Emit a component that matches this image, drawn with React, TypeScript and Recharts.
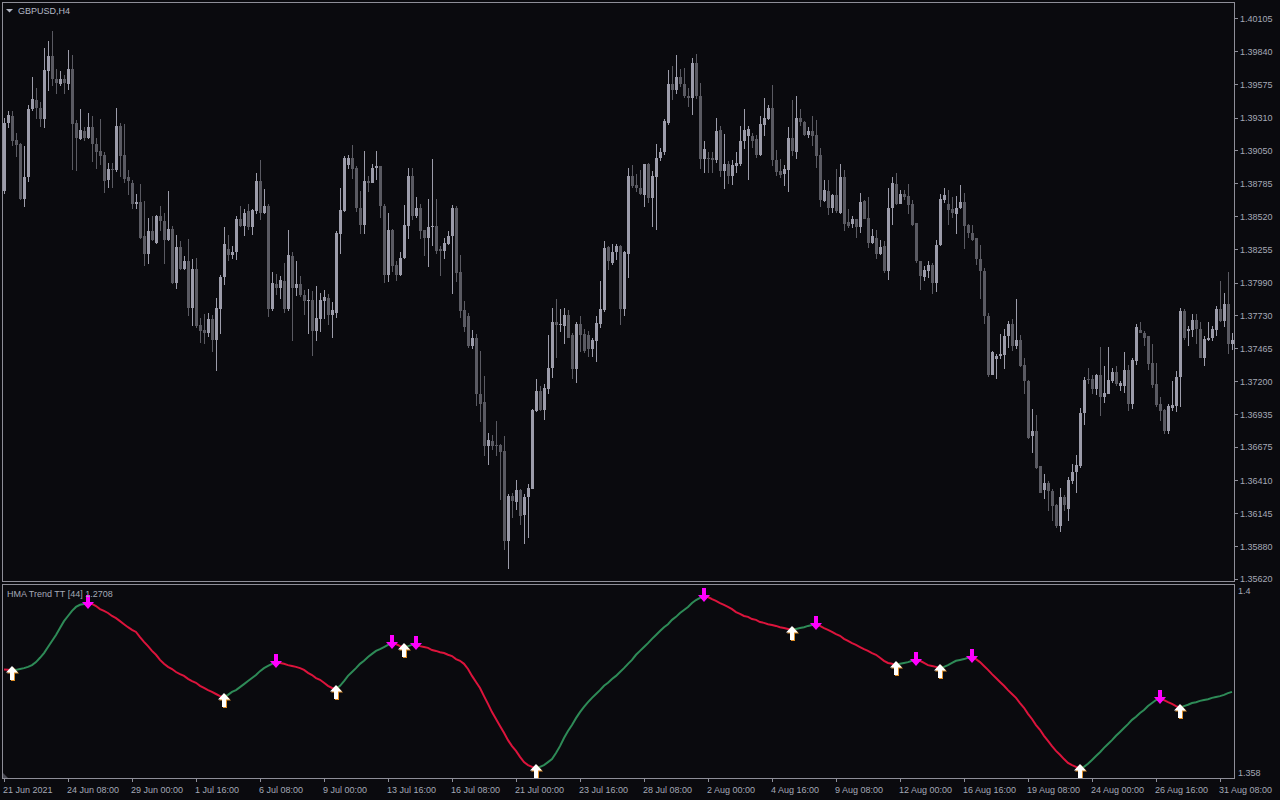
import React from 'react';
import { ComposedChart, Bar, Line, XAxis, YAxis } from 'recharts';

// GBPUSD H4 bars
const openPrices = [
  1.3872, 1.3927, 1.3932, 1.3913, 1.3910, 1.3866, 1.3883, 1.3938, 1.3945, 1.3939,
  1.3930, 1.3968, 1.3980, 1.3962, 1.3958, 1.3962, 1.3958, 1.3970, 1.3927, 1.3914,
  1.3920, 1.3915, 1.3923, 1.3910, 1.3904, 1.3901, 1.3881, 1.3890, 1.3889, 1.3924,
  1.3901, 1.3883, 1.3879, 1.3862, 1.3863, 1.3836, 1.3822, 1.3840, 1.3831, 1.3852,
  1.3848, 1.3833, 1.3842, 1.3799, 1.3827, 1.3810, 1.3816, 1.3779, 1.3810, 1.3765,
  1.3761, 1.3759, 1.3770, 1.3753, 1.3778, 1.3803, 1.3826, 1.3821, 1.3823, 1.3850,
  1.3844, 1.3856, 1.3843, 1.3856, 1.3880, 1.3855, 1.3860, 1.3778, 1.3798, 1.3795,
  1.3800, 1.3778, 1.3820, 1.3795, 1.3798, 1.3789, 1.3784, 1.3785, 1.3760, 1.3770,
  1.3784, 1.3787, 1.3773, 1.3775, 1.3838, 1.3856, 1.3893, 1.3899, 1.3891, 1.3859,
  1.3845, 1.3880, 1.3879, 1.3891, 1.3892, 1.3860, 1.3805, 1.3841, 1.3813, 1.3805,
  1.3819, 1.3844, 1.3884, 1.3852, 1.3859, 1.3841, 1.3835, 1.3843, 1.3844, 1.3826,
  1.3824, 1.3830, 1.3836, 1.3859, 1.3807, 1.3777, 1.3772, 1.3748, 1.3755, 1.3710,
  1.3703, 1.3668, 1.3672, 1.3669, 1.3669, 1.3664, 1.3592, 1.3628, 1.3623, 1.3633,
  1.3613, 1.3627, 1.3634, 1.3696, 1.3712, 1.3697, 1.3714, 1.3731, 1.3767, 1.3765,
  1.3764, 1.3773, 1.3757, 1.3730, 1.3766, 1.3758, 1.3757, 1.3746, 1.3752, 1.3766,
  1.3777, 1.3827, 1.3815, 1.3823, 1.3828, 1.3778, 1.3822, 1.3884, 1.3877, 1.3875,
  1.3869, 1.3894, 1.3867, 1.3883, 1.3899, 1.3903, 1.3927, 1.3958, 1.3953, 1.3963,
  1.3958, 1.3948, 1.3947, 1.3975, 1.3948, 1.3898, 1.3899, 1.3899, 1.3897, 1.3921,
  1.3888, 1.3894, 1.3884, 1.3892, 1.3894, 1.3912, 1.3916, 1.3916, 1.3914, 1.3901,
  1.3925, 1.3930, 1.3939, 1.3897, 1.3888, 1.3886, 1.3889, 1.3915, 1.3903, 1.3931,
  1.3927, 1.3917, 1.3920, 1.3917, 1.3901, 1.3864, 1.3872, 1.3859, 1.3869, 1.3855,
  1.3883, 1.3847, 1.3846, 1.3850, 1.3843, 1.3864, 1.3851, 1.3831, 1.3835, 1.3822,
  1.3828, 1.3808, 1.3859, 1.3878, 1.3862, 1.3870, 1.3868, 1.3862, 1.3847, 1.3816,
  1.3803, 1.3808, 1.3813, 1.3799, 1.3829, 1.3865, 1.3862, 1.3858, 1.3854, 1.3859,
  1.3863, 1.3845, 1.3839, 1.3835, 1.3818, 1.3808, 1.3772, 1.3725, 1.3738, 1.3740,
  1.3741, 1.3756, 1.3766, 1.3748, 1.3753, 1.3733, 1.3720, 1.3676, 1.3680, 1.3652,
  1.3633, 1.3639, 1.3632, 1.3621, 1.3604, 1.3627, 1.3618, 1.3640, 1.3647, 1.3652,
  1.3695, 1.3722, 1.3722, 1.3714, 1.3725, 1.3707, 1.3710, 1.3720, 1.3727, 1.3716,
  1.3716, 1.3729, 1.3702, 1.3736, 1.3761, 1.3759, 1.3756, 1.3735, 1.3718, 1.3702,
  1.3697, 1.3680, 1.3699, 1.3700, 1.3723, 1.3776, 1.3760, 1.3761, 1.3769, 1.3762,
  1.3739, 1.3753, 1.3755, 1.3761, 1.3778, 1.3768, 1.3782, 1.3750,
];

const highPrices = [
  1.3931, 1.3936, 1.3936, 1.3919, 1.3911, 1.3908, 1.3941, 1.3963, 1.3955, 1.3943,
  1.3987, 1.3992, 1.4000, 1.3970, 1.3968, 1.3965, 1.3985, 1.3981, 1.3929, 1.3938,
  1.3923, 1.3935, 1.3932, 1.3915, 1.3930, 1.3903, 1.3895, 1.3895, 1.3939, 1.3927,
  1.3926, 1.3889, 1.3881, 1.3870, 1.3878, 1.3864, 1.3851, 1.3852, 1.3853, 1.3860,
  1.3855, 1.3872, 1.3844, 1.3837, 1.3832, 1.3820, 1.3834, 1.3818, 1.3819, 1.3771,
  1.3774, 1.3775, 1.3773, 1.3787, 1.3805, 1.3843, 1.3837, 1.3828, 1.3852, 1.3860,
  1.3858, 1.3862, 1.3858, 1.3887, 1.3897, 1.3874, 1.3862, 1.3807, 1.3806, 1.3804,
  1.3815, 1.3841, 1.3823, 1.3816, 1.3804, 1.3793, 1.3794, 1.3792, 1.3796, 1.3791,
  1.3793, 1.3790, 1.3783, 1.3840, 1.3875, 1.3900, 1.3901, 1.3909, 1.3892, 1.3872,
  1.3904, 1.3884, 1.3894, 1.3904, 1.3892, 1.3862, 1.3855, 1.3842, 1.3816, 1.3823,
  1.3861, 1.3891, 1.3891, 1.3867, 1.3862, 1.3841, 1.3866, 1.3898, 1.3866, 1.3828,
  1.3835, 1.3840, 1.3861, 1.3860, 1.3821, 1.3784, 1.3775, 1.3761, 1.3758, 1.3744,
  1.3724, 1.3679, 1.3677, 1.3688, 1.3670, 1.3676, 1.3630, 1.3631, 1.3641, 1.3634,
  1.3630, 1.3638, 1.3698, 1.3722, 1.3716, 1.3718, 1.3757, 1.3779, 1.3786, 1.3778,
  1.3779, 1.3777, 1.3759, 1.3767, 1.3772, 1.3762, 1.3760, 1.3755, 1.3772, 1.3800,
  1.3832, 1.3828, 1.3830, 1.3830, 1.3829, 1.3824, 1.3891, 1.3893, 1.3886, 1.3889,
  1.3894, 1.3895, 1.3888, 1.3910, 1.3907, 1.3930, 1.3969, 1.3972, 1.3981, 1.3970,
  1.3971, 1.3955, 1.3979, 1.3982, 1.3959, 1.3912, 1.3903, 1.3903, 1.3931, 1.3924,
  1.3918, 1.3896, 1.3897, 1.3903, 1.3924, 1.3938, 1.3924, 1.3919, 1.3917, 1.3932,
  1.3947, 1.3941, 1.3957, 1.3905, 1.3898, 1.3893, 1.3923, 1.3945, 1.3948, 1.3938,
  1.3928, 1.3923, 1.3932, 1.3929, 1.3907, 1.3881, 1.3881, 1.3870, 1.3890, 1.3894,
  1.3889, 1.3858, 1.3852, 1.3850, 1.3871, 1.3865, 1.3867, 1.3842, 1.3841, 1.3833,
  1.3832, 1.3875, 1.3883, 1.3887, 1.3873, 1.3873, 1.3878, 1.3865, 1.3847, 1.3816,
  1.3812, 1.3816, 1.3815, 1.3833, 1.3870, 1.3875, 1.3873, 1.3867, 1.3868, 1.3877,
  1.3871, 1.3846, 1.3845, 1.3835, 1.3829, 1.3811, 1.3775, 1.3744, 1.3742, 1.3758,
  1.3762, 1.3768, 1.3770, 1.3786, 1.3757, 1.3739, 1.3721, 1.3698, 1.3693, 1.3652,
  1.3646, 1.3640, 1.3634, 1.3622, 1.3635, 1.3629, 1.3643, 1.3654, 1.3661, 1.3699,
  1.3723, 1.3731, 1.3725, 1.3726, 1.3747, 1.3732, 1.3747, 1.3731, 1.3732, 1.3720,
  1.3743, 1.3733, 1.3739, 1.3766, 1.3767, 1.3760, 1.3756, 1.3750, 1.3735, 1.3707,
  1.3698, 1.3702, 1.3720, 1.3728, 1.3779, 1.3778, 1.3764, 1.3774, 1.3774, 1.3767,
  1.3756, 1.3767, 1.3764, 1.3780, 1.3800, 1.3791, 1.3807, 1.3759,
];

const lowPrices = [
  1.3870, 1.3922, 1.3908, 1.3900, 1.3865, 1.3859, 1.3879, 1.3936, 1.3930, 1.3923,
  1.3923, 1.3952, 1.3956, 1.3950, 1.3956, 1.3950, 1.3953, 1.3889, 1.3888, 1.3913,
  1.3912, 1.3914, 1.3895, 1.3890, 1.3893, 1.3870, 1.3875, 1.3875, 1.3888, 1.3884,
  1.3879, 1.3869, 1.3858, 1.3858, 1.3834, 1.3812, 1.3814, 1.3832, 1.3830, 1.3840,
  1.3814, 1.3832, 1.3798, 1.3794, 1.3809, 1.3809, 1.3772, 1.3764, 1.3763, 1.3751,
  1.3750, 1.3756, 1.3743, 1.3729, 1.3758, 1.3797, 1.3816, 1.3818, 1.3817, 1.3843,
  1.3836, 1.3841, 1.3837, 1.3854, 1.3849, 1.3854, 1.3772, 1.3776, 1.3789, 1.3786,
  1.3775, 1.3776, 1.3752, 1.3788, 1.3787, 1.3773, 1.3758, 1.3740, 1.3752, 1.3760,
  1.3770, 1.3765, 1.3754, 1.3770, 1.3822, 1.3855, 1.3890, 1.3882, 1.3855, 1.3838,
  1.3838, 1.3871, 1.3879, 1.3881, 1.3850, 1.3799, 1.3800, 1.3808, 1.3800, 1.3804,
  1.3818, 1.3834, 1.3849, 1.3850, 1.3834, 1.3820, 1.3812, 1.3828, 1.3822, 1.3804,
  1.3818, 1.3829, 1.3790, 1.3799, 1.3771, 1.3759, 1.3747, 1.3746, 1.3700, 1.3687,
  1.3660, 1.3653, 1.3665, 1.3660, 1.3625, 1.3585, 1.3570, 1.3611, 1.3617, 1.3605,
  1.3590, 1.3595, 1.3634, 1.3696, 1.3696, 1.3689, 1.3710, 1.3723, 1.3739, 1.3760,
  1.3750, 1.3755, 1.3722, 1.3718, 1.3743, 1.3743, 1.3739, 1.3740, 1.3735, 1.3762,
  1.3775, 1.3809, 1.3813, 1.3817, 1.3765, 1.3772, 1.3803, 1.3875, 1.3872, 1.3869,
  1.3860, 1.3863, 1.3843, 1.3841, 1.3897, 1.3901, 1.3925, 1.3945, 1.3950, 1.3956,
  1.3947, 1.3940, 1.3933, 1.3946, 1.3890, 1.3886, 1.3886, 1.3886, 1.3895, 1.3883,
  1.3874, 1.3878, 1.3877, 1.3886, 1.3892, 1.3906, 1.3881, 1.3907, 1.3899, 1.3900,
  1.3917, 1.3929, 1.3892, 1.3884, 1.3883, 1.3876, 1.3871, 1.3900, 1.3898, 1.3924,
  1.3916, 1.3914, 1.3908, 1.3891, 1.3860, 1.3863, 1.3853, 1.3855, 1.3855, 1.3854,
  1.3840, 1.3843, 1.3842, 1.3835, 1.3839, 1.3850, 1.3826, 1.3830, 1.3818, 1.3821,
  1.3806, 1.3801, 1.3845, 1.3861, 1.3862, 1.3865, 1.3854, 1.3844, 1.3815, 1.3793,
  1.3800, 1.3802, 1.3790, 1.3791, 1.3828, 1.3863, 1.3845, 1.3850, 1.3838, 1.3858,
  1.3826, 1.3835, 1.3832, 1.3813, 1.3786, 1.3766, 1.3724, 1.3725, 1.3722, 1.3738,
  1.3730, 1.3746, 1.3744, 1.3746, 1.3731, 1.3710, 1.3674, 1.3663, 1.3650, 1.3630,
  1.3626, 1.3616, 1.3608, 1.3603, 1.3600, 1.3616, 1.3608, 1.3638, 1.3631, 1.3651,
  1.3685, 1.3718, 1.3710, 1.3709, 1.3692, 1.3702, 1.3710, 1.3719, 1.3716, 1.3712,
  1.3710, 1.3696, 1.3698, 1.3733, 1.3758, 1.3748, 1.3729, 1.3715, 1.3700, 1.3688,
  1.3678, 1.3678, 1.3696, 1.3695, 1.3700, 1.3753, 1.3748, 1.3756, 1.3750, 1.3738,
  1.3732, 1.3752, 1.3752, 1.3756, 1.3767, 1.3764, 1.3741, 1.3745,
];

const closePrices = [
  1.3927, 1.3933, 1.3912, 1.3909, 1.3866, 1.3883, 1.3938, 1.3946, 1.3939, 1.3930,
  1.3969, 1.3980, 1.3962, 1.3959, 1.3962, 1.3959, 1.3970, 1.3926, 1.3915, 1.3921,
  1.3915, 1.3923, 1.3910, 1.3903, 1.3900, 1.3880, 1.3890, 1.3889, 1.3924, 1.3900,
  1.3882, 1.3880, 1.3862, 1.3863, 1.3835, 1.3822, 1.3840, 1.3833, 1.3852, 1.3848,
  1.3833, 1.3842, 1.3799, 1.3827, 1.3810, 1.3816, 1.3779, 1.3810, 1.3764, 1.3760,
  1.3759, 1.3770, 1.3753, 1.3779, 1.3803, 1.3830, 1.3821, 1.3823, 1.3850, 1.3844,
  1.3855, 1.3843, 1.3857, 1.3880, 1.3855, 1.3860, 1.3778, 1.3799, 1.3795, 1.3801,
  1.3778, 1.3821, 1.3795, 1.3798, 1.3789, 1.3784, 1.3785, 1.3760, 1.3771, 1.3785,
  1.3787, 1.3773, 1.3777, 1.3839, 1.3857, 1.3899, 1.3899, 1.3890, 1.3859, 1.3845,
  1.3880, 1.3879, 1.3891, 1.3892, 1.3860, 1.3805, 1.3841, 1.3812, 1.3805, 1.3819,
  1.3845, 1.3884, 1.3852, 1.3859, 1.3840, 1.3835, 1.3843, 1.3844, 1.3824, 1.3824,
  1.3831, 1.3836, 1.3859, 1.3807, 1.3776, 1.3763, 1.3748, 1.3755, 1.3710, 1.3702,
  1.3668, 1.3673, 1.3668, 1.3668, 1.3663, 1.3592, 1.3628, 1.3624, 1.3633, 1.3612,
  1.3627, 1.3635, 1.3697, 1.3712, 1.3697, 1.3715, 1.3731, 1.3767, 1.3765, 1.3766,
  1.3773, 1.3755, 1.3730, 1.3766, 1.3757, 1.3744, 1.3746, 1.3753, 1.3767, 1.3778,
  1.3827, 1.3816, 1.3823, 1.3828, 1.3778, 1.3823, 1.3884, 1.3876, 1.3875, 1.3870,
  1.3894, 1.3867, 1.3884, 1.3899, 1.3903, 1.3928, 1.3958, 1.3953, 1.3963, 1.3958,
  1.3948, 1.3947, 1.3975, 1.3948, 1.3898, 1.3906, 1.3899, 1.3897, 1.3920, 1.3888,
  1.3894, 1.3884, 1.3893, 1.3895, 1.3912, 1.3921, 1.3922, 1.3912, 1.3901, 1.3926,
  1.3931, 1.3939, 1.3897, 1.3887, 1.3885, 1.3890, 1.3915, 1.3904, 1.3931, 1.3927,
  1.3917, 1.3920, 1.3916, 1.3900, 1.3865, 1.3873, 1.3859, 1.3869, 1.3856, 1.3883,
  1.3846, 1.3844, 1.3850, 1.3843, 1.3863, 1.3850, 1.3831, 1.3836, 1.3822, 1.3827,
  1.3808, 1.3859, 1.3879, 1.3862, 1.3870, 1.3867, 1.3861, 1.3845, 1.3816, 1.3804,
  1.3809, 1.3813, 1.3799, 1.3829, 1.3866, 1.3869, 1.3857, 1.3855, 1.3859, 1.3863,
  1.3844, 1.3839, 1.3833, 1.3818, 1.3808, 1.3772, 1.3725, 1.3743, 1.3740, 1.3742,
  1.3756, 1.3766, 1.3748, 1.3753, 1.3732, 1.3720, 1.3675, 1.3680, 1.3651, 1.3631,
  1.3639, 1.3632, 1.3620, 1.3604, 1.3627, 1.3621, 1.3641, 1.3647, 1.3653, 1.3695,
  1.3721, 1.3721, 1.3714, 1.3725, 1.3707, 1.3711, 1.3721, 1.3727, 1.3718, 1.3719,
  1.3729, 1.3702, 1.3737, 1.3763, 1.3759, 1.3755, 1.3734, 1.3717, 1.3701, 1.3696,
  1.3680, 1.3700, 1.3701, 1.3723, 1.3776, 1.3755, 1.3762, 1.3769, 1.3762, 1.3739,
  1.3754, 1.3755, 1.3762, 1.3778, 1.3768, 1.3782, 1.3750, 1.3753,
];

// HMA Trend TT [44] line
const hmaValues = [
  1.3818, 1.3817, 1.3816, 1.3817, 1.3819, 1.3821, 1.3824, 1.3828, 1.3835, 1.3845,
  1.3856, 1.3870, 1.3884, 1.3898, 1.3914, 1.3930, 1.3942, 1.3954, 1.3963, 1.3968,
  1.3970, 1.3972, 1.3970, 1.3965, 1.3958, 1.3954, 1.3949, 1.3942, 1.3937, 1.3930,
  1.3923, 1.3916, 1.3910, 1.3905, 1.3893, 1.3882, 1.3872, 1.3861, 1.3852, 1.3840,
  1.3831, 1.3824, 1.3819, 1.3812, 1.3807, 1.3803, 1.3796, 1.3791, 1.3787, 1.3780,
  1.3775, 1.3770, 1.3766, 1.3761, 1.3756, 1.3754, 1.3759, 1.3766, 1.3770, 1.3777,
  1.3784, 1.3791, 1.3798, 1.3805, 1.3814, 1.3821, 1.3826, 1.3831, 1.3835, 1.3833,
  1.3831, 1.3828, 1.3826, 1.3824, 1.3821, 1.3817, 1.3810, 1.3805, 1.3798, 1.3794,
  1.3787, 1.3780, 1.3775, 1.3773, 1.3780, 1.3791, 1.3803, 1.3812, 1.3821, 1.3831,
  1.3838, 1.3847, 1.3854, 1.3861, 1.3865, 1.3870, 1.3875, 1.3879, 1.3877, 1.3872,
  1.3870, 1.3872, 1.3875, 1.3877, 1.3872, 1.3870, 1.3868, 1.3863, 1.3861, 1.3858,
  1.3856, 1.3852, 1.3849, 1.3842, 1.3838, 1.3831, 1.3819, 1.3803, 1.3789, 1.3775,
  1.3756, 1.3738, 1.3719, 1.3703, 1.3687, 1.3671, 1.3654, 1.3640, 1.3629, 1.3615,
  1.3603, 1.3596, 1.3592, 1.3589, 1.3592, 1.3596, 1.3603, 1.3610, 1.3624, 1.3640,
  1.3659, 1.3675, 1.3689, 1.3705, 1.3719, 1.3731, 1.3742, 1.3752, 1.3761, 1.3770,
  1.3780, 1.3787, 1.3796, 1.3803, 1.3812, 1.3821, 1.3831, 1.3840, 1.3852, 1.3861,
  1.3870, 1.3879, 1.3889, 1.3898, 1.3907, 1.3916, 1.3923, 1.3933, 1.3940, 1.3949,
  1.3956, 1.3963, 1.3972, 1.3979, 1.3984, 1.3988, 1.3986, 1.3981, 1.3977, 1.3972,
  1.3968, 1.3963, 1.3958, 1.3951, 1.3947, 1.3942, 1.3940, 1.3935, 1.3933, 1.3928,
  1.3926, 1.3923, 1.3921, 1.3919, 1.3916, 1.3914, 1.3912, 1.3910, 1.3912, 1.3914,
  1.3916, 1.3919, 1.3921, 1.3923, 1.3919, 1.3914, 1.3910, 1.3905, 1.3900, 1.3896,
  1.3889, 1.3884, 1.3879, 1.3875, 1.3870, 1.3865, 1.3861, 1.3856, 1.3852, 1.3845,
  1.3838, 1.3833, 1.3831, 1.3828, 1.3831, 1.3833, 1.3835, 1.3838, 1.3840, 1.3838,
  1.3833, 1.3828, 1.3826, 1.3824, 1.3821, 1.3824, 1.3828, 1.3833, 1.3838, 1.3840,
  1.3842, 1.3845, 1.3847, 1.3842, 1.3835, 1.3826, 1.3817, 1.3807, 1.3798, 1.3789,
  1.3780, 1.3770, 1.3761, 1.3752, 1.3740, 1.3729, 1.3715, 1.3703, 1.3689, 1.3678,
  1.3664, 1.3652, 1.3640, 1.3629, 1.3620, 1.3610, 1.3601, 1.3596, 1.3592, 1.3589,
  1.3592, 1.3599, 1.3608, 1.3617, 1.3626, 1.3636, 1.3645, 1.3654, 1.3664, 1.3673,
  1.3682, 1.3691, 1.3701, 1.3708, 1.3717, 1.3724, 1.3733, 1.3740, 1.3747, 1.3752,
  1.3747, 1.3742, 1.3738, 1.3733, 1.3729, 1.3733, 1.3736, 1.3740, 1.3742, 1.3745,
  1.3747, 1.3749, 1.3752, 1.3754, 1.3756, 1.3759, 1.3763, 1.3766,
];

// bars where the indicator drew its arrows
const upSignals = [2, 55, 83, 100, 133, 197, 223, 234, 269, 294];
const downSignals = [21, 68, 97, 103, 175, 203, 228, 242, 289];

const timeTickBars = [0, 16, 32, 48, 64, 80, 96, 112, 128, 144, 160, 176, 192, 208, 224, 240, 256, 272, 288, 304];
const timeTickLabels = [
  '21 Jun 2021', '24 Jun 08:00', '29 Jun 00:00', '1 Jul 16:00', '6 Jul 08:00',
  '9 Jul 00:00', '13 Jul 16:00', '16 Jul 08:00', '21 Jul 00:00', '23 Jul 16:00',
  '28 Jul 08:00', '2 Aug 00:00', '4 Aug 16:00', '9 Aug 08:00', '12 Aug 00:00',
  '16 Aug 16:00', '19 Aug 08:00', '24 Aug 00:00', '26 Aug 16:00', '31 Aug 08:00',
];

const priceTicks = [
  1.40105, 1.3984, 1.39575, 1.3931, 1.3905, 1.38785, 1.3852, 1.38255, 1.3799,
  1.3773, 1.37465, 1.372, 1.36935, 1.36675, 1.3641, 1.36145, 1.3588, 1.3562,
];
const hmaTicks = [1.358, 1.4];

const BG = '#0a0a0e';
const FRAME = '#8e8e98';
const TEXT = '#a4a9b6';
const BULL = '#9c9caa';
const BEAR = '#5a5a62';
const GREEN = '#2e8b57';
const RED = '#dc143c';
const FONT = '"Liberation Sans", Arial, sans-serif';

function trendAt(i: number) {
  let t = 'down';
  let last = -1;
  upSignals.forEach((s) => { if (s <= i && s > last) { last = s; t = 'up'; } });
  downSignals.forEach((s) => { if (s <= i && s > last) { last = s; t = 'down'; } });
  return t;
}

const rows = closePrices.map((close, i) => {
  const t = trendAt(i);
  const prev = i > 0 ? trendAt(i - 1) : t;
  return {
    i,
    open: openPrices[i],
    high: highPrices[i],
    low: lowPrices[i],
    close,
    range: [lowPrices[i], highPrices[i]],
    hmaUp: t === 'up' || prev === 'up' ? hmaValues[i] : null,
    hmaDown: t === 'down' || prev === 'down' ? hmaValues[i] : null,
    sigUp: upSignals.includes(i) ? hmaValues[i] : null,
    sigDown: downSignals.includes(i) ? hmaValues[i] : null,
  };
});

function Candle(props: any) {
  const { x, y, width, height, payload } = props;
  const { open, close, high, low } = payload;
  const yHigh = Math.min(y, y + height);
  const yLow = Math.max(y, y + height);
  const span = high - low || 1e-9;
  const py = (v: number) => yHigh + ((high - v) / span) * (yLow - yHigh);
  const cx = Math.round(x + width / 2);
  const color = close > open ? BULL : BEAR;
  const top = Math.round(py(Math.max(open, close)));
  const bot = Math.round(py(Math.min(open, close)));
  return (
    <g shapeRendering="crispEdges">
      <rect x={cx} y={Math.round(yHigh)} width={1} height={Math.max(1, Math.round(yLow - yHigh))} fill={color} />
      <rect x={cx - 1} y={top} width={3} height={Math.max(1, bot - top)} fill={color} />
    </g>
  );
}

function UpArrow(props: any) {
  const { cx, cy, payload, index } = props;
  if (payload == null || payload.sigUp == null || cx == null || cy == null) return <g key={`u${index}`} />;
  const x = Math.round(cx);
  const t = Math.round(cy) - 4;
  const pts = (dx: number, dy: number) =>
    [
      [x + dx, t + dy], [x + 6 + dx, t + 6.5 + dy], [x + 2 + dx, t + 6.5 + dy], [x + 2 + dx, t + 14 + dy],
      [x - 2 + dx, t + 14 + dy], [x - 2 + dx, t + 6.5 + dy], [x - 6 + dx, t + 6.5 + dy],
    ].map((p) => p.join(',')).join(' ');
  return (
    <g key={`u${index}`}>
      <polygon points={pts(1, 1)} fill="#e0902a" />
      <polygon points={pts(0, 0)} fill="#ffffff" />
    </g>
  );
}

function DownArrow(props: any) {
  const { cx, cy, payload, index } = props;
  if (payload == null || payload.sigDown == null || cx == null || cy == null) return <g key={`d${index}`} />;
  const x = Math.round(cx);
  const t = Math.round(cy) - 8;
  const pts = [
    [x - 2, t], [x + 2, t], [x + 2, t + 7], [x + 6, t + 7], [x, t + 14], [x - 6, t + 7], [x - 2, t + 7],
  ].map((p) => p.join(',')).join(' ');
  return <polygon key={`d${index}`} points={pts} fill="#ff00ff" />;
}

function PriceTick(props: any) {
  const { x, y, payload } = props;
  const ty = Math.round(y) + 0.5;
  return (
    <g>
      <line x1={x - 8} x2={x - 4} y1={ty} y2={ty} stroke={FRAME} />
      <text x={x - 2} y={y + 3.5} fill={TEXT} fontSize={9} fontFamily={FONT}>
        {payload.value.toFixed(5)}
      </text>
    </g>
  );
}

function HmaTick(props: any) {
  const { x, y, payload } = props;
  return (
    <text x={x - 4} y={y + 3.5} fill={TEXT} fontSize={9} fontFamily={FONT}>
      {String(payload.value)}
    </text>
  );
}

function TimeTick(props: any) {
  const { x, y, payload } = props;
  const k = timeTickBars.indexOf(payload.value);
  const tx = Math.round(x) + 0.5;
  return (
    <g>
      <line x1={tx} x2={tx} y1={y - 8} y2={y - 4} stroke={FRAME} />
      <text x={x - 1} y={y + 7} fill={TEXT} fontSize={9} fontFamily={FONT}>
        {timeTickLabels[k]}
      </text>
    </g>
  );
}

export default function App() {
  return (
    <div style={{ position: 'fixed', left: 0, top: 0, width: 1280, height: 800, background: BG, overflow: 'hidden' }}>
      <div style={{ position: 'absolute', left: 0, top: 0 }}>
        <ComposedChart width={1280} height={584} data={rows} margin={{ top: 3, right: 0, bottom: 3, left: 2 }}>
          <XAxis dataKey="i" type="category" scale="band" hide />
          <YAxis
            orientation="right"
            width={46}
            domain={[1.35602, 1.40226]}
            ticks={priceTicks}
            interval={0}
            axisLine={false}
            tickLine={false}
            tick={<PriceTick />}
            allowDataOverflow
          />
          <Bar dataKey="range" shape={<Candle />} isAnimationActive={false} />
        </ComposedChart>
      </div>

      <div style={{ position: 'absolute', left: 0, top: 584 }}>
        <ComposedChart width={1280} height={216} data={rows} margin={{ top: 1, right: 0, bottom: 0, left: 2 }}>
          <XAxis
            dataKey="i"
            type="category"
            scale="band"
            height={22}
            ticks={timeTickBars}
            interval={0}
            axisLine={false}
            tickLine={false}
            tick={<TimeTick />}
          />
          <YAxis
            orientation="right"
            width={46}
            domain={[1.35661, 1.40139]}
            ticks={hmaTicks}
            interval={0}
            axisLine={false}
            tickLine={false}
            tick={<HmaTick />}
            allowDataOverflow
          />
          <Line dataKey="hmaUp" stroke={GREEN} strokeWidth={2} dot={false} activeDot={false} connectNulls={false} isAnimationActive={false} />
          <Line dataKey="hmaDown" stroke={RED} strokeWidth={2} dot={false} activeDot={false} connectNulls={false} isAnimationActive={false} />
          <Line dataKey="sigUp" stroke="none" dot={UpArrow} activeDot={false} isAnimationActive={false} />
          <Line dataKey="sigDown" stroke="none" dot={DownArrow} activeDot={false} isAnimationActive={false} />
        </ComposedChart>
      </div>

      <svg width={1280} height={800} style={{ position: 'absolute', left: 0, top: 0, pointerEvents: 'none' }}>
        <g shapeRendering="crispEdges" fill="none" stroke={FRAME}>
          <rect x={2.5} y={2.5} width={1232} height={579} />
          <rect x={2.5} y={584.5} width={1232} height={194} />
        </g>
        <polygon points="6,9 13,9 9.5,12.5" fill="#b4b8c6" />
        <text x={18} y={14} fill="#b4b8c6" fontSize={9} fontFamily={FONT}>GBPUSD,H4</text>
        <text x={7} y={597} fill={TEXT} fontSize={9} fontFamily={FONT}>HMA Trend TT [44] 1.2708</text>
        <polygon points="3,773 3,778 8,778" fill="#4a4a54" />
      </svg>
    </div>
  );
}
